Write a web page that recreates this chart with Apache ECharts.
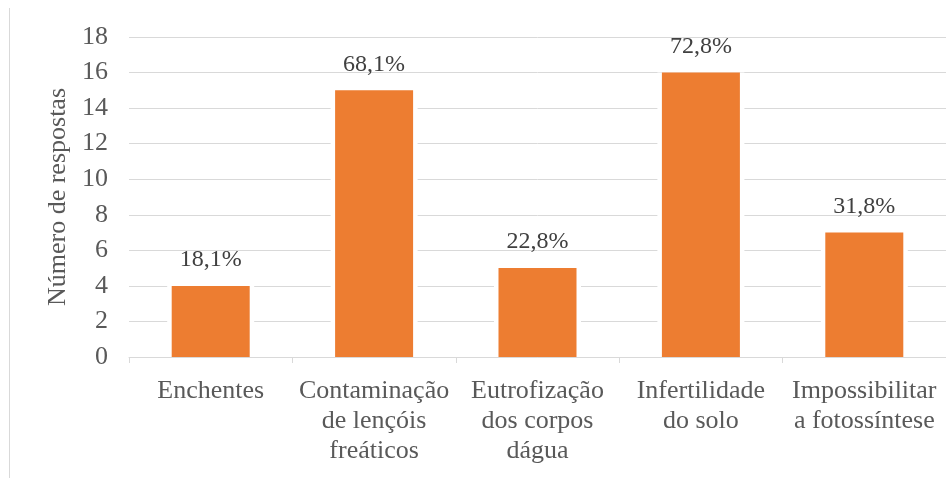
<!DOCTYPE html>
<html>
<head>
<meta charset="utf-8">
<script src="https://cdn.jsdelivr.net/npm/echarts@6/dist/echarts.min.js"></script>
<style>
  html, body { margin: 0; padding: 0; background: #ffffff; }
  #main { width: 946px; height: 478px; }
</style>
</head>
<body>
<div id="main"></div>
<script>
// categorias e valores
var categorias = [
  'Enchentes',
  'Contaminação\nde lençóis\nfreáticos',
  'Eutrofização\ndos corpos\ndágua',
  'Infertilidade\ndo solo',
  'Impossibilitar\na fotossíntese'
];
var respostas = [4, 15, 5, 16, 7];
var percentuais = ['18,1%', '68,1%', '22,8%', '72,8%', '31,8%'];

var fonte = "'Liberation Serif', 'Times New Roman', serif";

var myChart = echarts.init(document.getElementById('main'));
myChart.setOption({
  animation: false,
  textStyle: { fontFamily: fonte },
  grid: {
    left: 129,
    right: 0,
    top: 37,
    bottom: 121
  },
  graphic: [
    {
      type: 'line',
      shape: { x1: 9.5, y1: 8, x2: 9.5, y2: 478 },
      style: { stroke: '#d9d9d9', lineWidth: 1 }
    }
  ],
  xAxis: [
    {
      type: 'category',
      data: categorias,
      z: 3,
      axisLine: { lineStyle: { color: '#d9d9d9', width: 1 } },
      axisTick: { show: true, length: 6, lineStyle: { color: '#d9d9d9' } },
      axisLabel: {
        color: '#595959',
        fontSize: 26,
        lineHeight: 30,
        margin: 19,
        interval: 0,
        fontFamily: fonte
      }
    },
    {
      // eixo oculto só para o fundo branco das barras
      type: 'category',
      data: categorias,
      show: false
    }
  ],
  yAxis: {
    type: 'value',
    min: 0,
    max: 18,
    interval: 2,
    name: 'Número de respostas',
    nameLocation: 'middle',
    nameGap: 58,
    nameTextStyle: { color: '#595959', fontSize: 26, fontFamily: fonte },
    axisLine: { show: false },
    axisTick: { show: false },
    axisLabel: { color: '#595959', fontSize: 26, margin: 21, fontFamily: fonte },
    splitLine: { lineStyle: { color: '#d9d9d9', width: 1 } }
  },
  series: [
    {
      type: 'bar',
      xAxisIndex: 1,
      data: respostas,
      barWidth: 87,
      silent: true,
      z: 1,
      itemStyle: { color: '#ffffff' }
    },
    {
      name: 'Número de respostas',
      type: 'bar',
      data: respostas,
      barWidth: 78,
      z: 2,
      itemStyle: { color: '#ed7d31' },
      label: {
        show: true,
        position: 'top',
        distance: 14,
        color: '#404040',
        fontSize: 24,
        fontFamily: fonte,
        formatter: function (p) { return percentuais[p.dataIndex]; }
      }
    }
  ]
});
</script>
</body>
</html>
